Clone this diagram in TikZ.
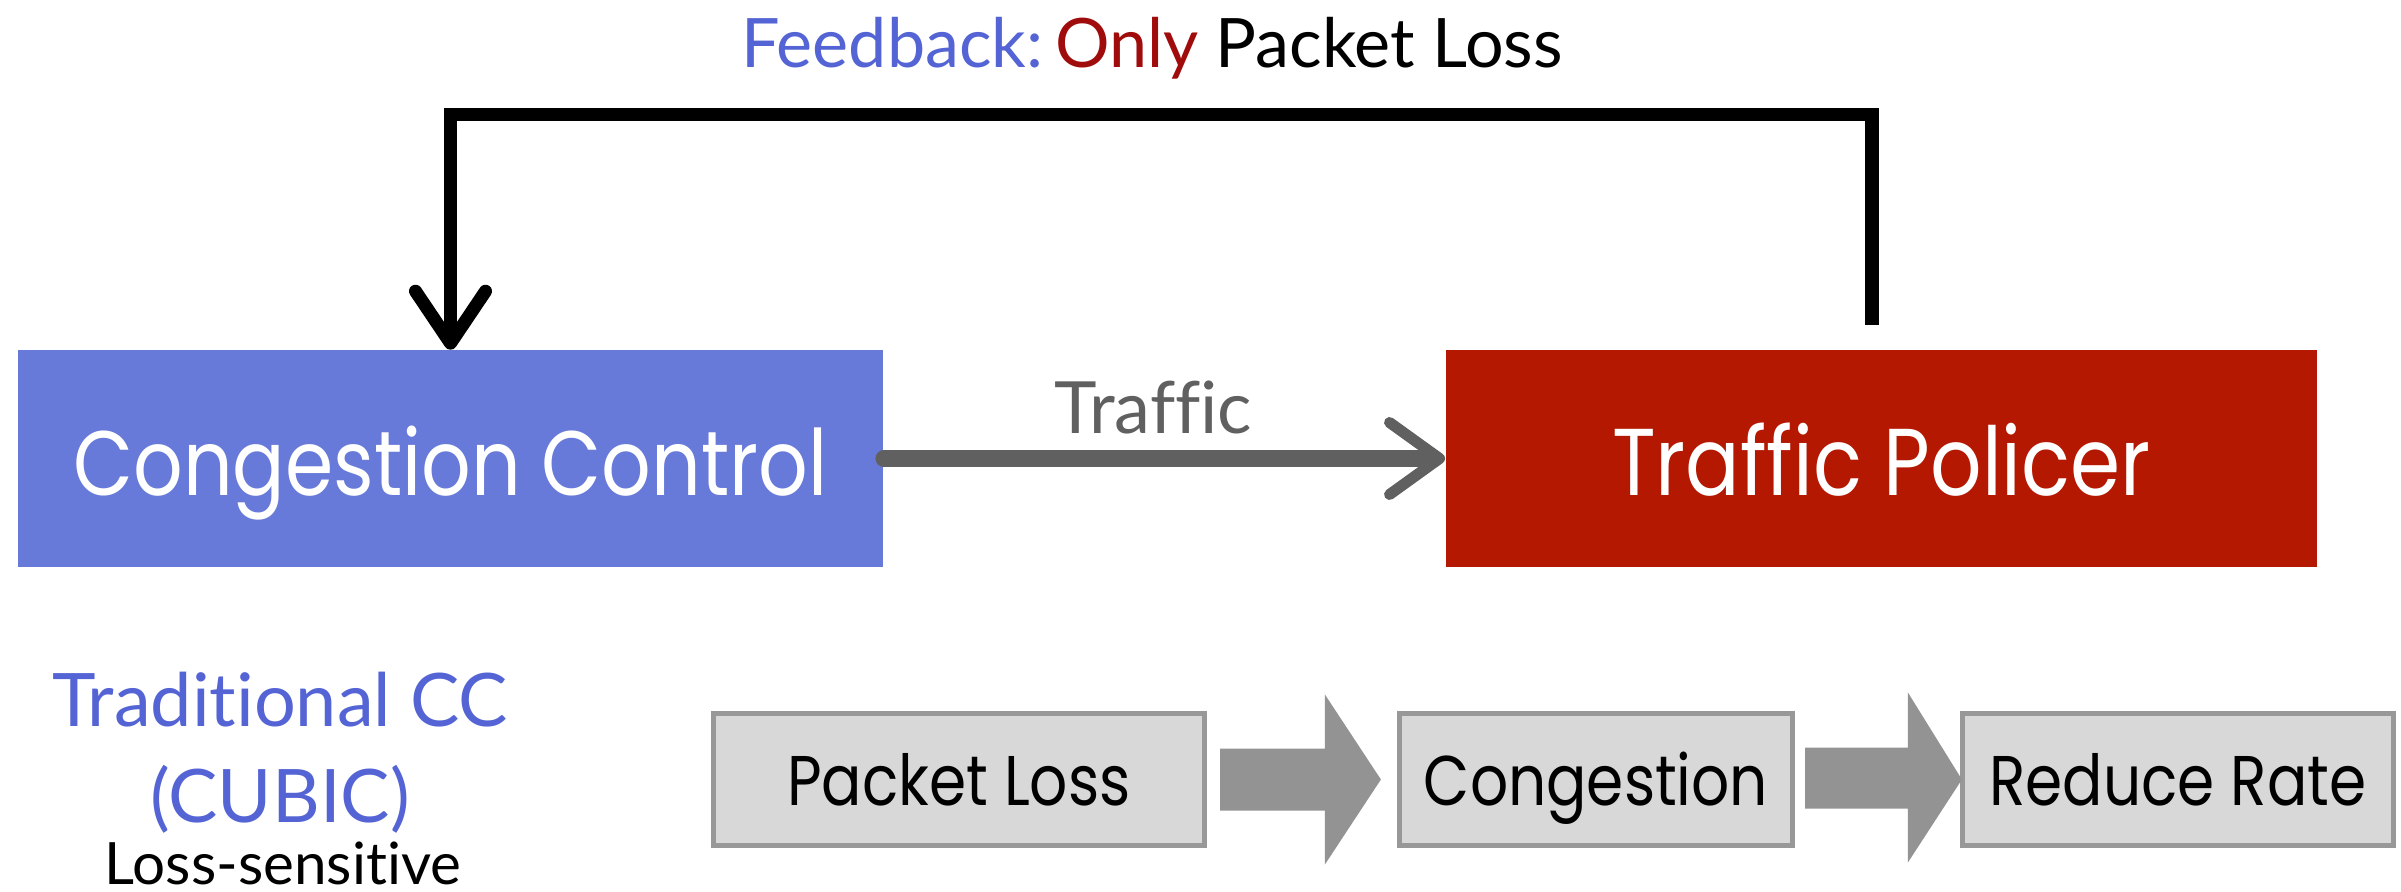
\documentclass[tikz,border=0pt]{standalone}
\usepackage{fontspec}
\setmainfont{Lato}[Ligatures={NoCommon,NoContextual}]
\newfontfamily\handfont{Poppins}[FakeStretch=0.85]
\usetikzlibrary{arrows.meta,calc}

\definecolor{ccblue}{RGB}{103,122,217}
\definecolor{tpred}{RGB}{180,24,0}
\definecolor{labelblue}{RGB}{84,100,212}
\definecolor{onlyred}{RGB}{160,12,12}
\definecolor{flowgray}{RGB}{96,96,96}
\definecolor{stepfill}{RGB}{216,216,216}
\definecolor{stepline}{RGB}{152,152,152}
\definecolor{fatgray}{RGB}{147,147,147}

\tikzset{
  bigbox/.style={draw=none, minimum height=2.16cm, inner sep=0pt,
    text=white, font=\handfont\fontsize{26}{30}\selectfont,
    text height=0.73cm, text depth=0pt},
  stepbox/.style={draw=stepline, line width=0.05cm, fill=stepfill,
    minimum height=1.32cm, inner sep=0pt,
    font=\handfont\fontsize{20}{24}\selectfont,
    text height=0.51cm, text depth=0pt},
  feedback/.style={line width=0.135cm, line join=miter,
    -{Straight Barb[length=0.52cm, width=0.7cm, line width=0.13cm, round]}},
  flow/.style={draw=flowgray, line width=0.17cm, line cap=round,
    -{Straight Barb[length=0.5cm, width=0.72cm, line width=0.11cm, round]}},
  fatarrow/.style={fill=fatgray, draw=none},
  sidetext/.style={anchor=base, inner sep=0pt}
}

\begin{document}
\begin{tikzpicture}[x=0.01cm, y=-0.01cm]
\useasboundingbox (0,0) rectangle (2401,892);

% main blocks
\node[bigbox, fill=ccblue, minimum width=8.65cm] (cc) at (450.5,458.5) {Congestion Control};
\node[bigbox, fill=tpred, minimum width=8.71cm, font=\handfont\fontsize{27}{30}\selectfont] (tp) at (1881.5,458.5) {Traffic Policer};

% feedback loop from the policer back to congestion control
\coordinate (fbR) at (1872,325);
\coordinate (fbTop) at (0,114.5);
\draw[feedback] (fbR) -- (fbR |- fbTop) -- (cc.north |- fbTop) -- (cc.north);

\node[sidetext, font=\fontsize{19.4}{24}\selectfont] (title) at (1152,68)
  {\textcolor{labelblue}{Feedback:}\hspace{0.17em}\textcolor{onlyred}{Only} Packet Loss};

% traffic flow
\draw[flow] (cc.east) -- (tp.west)
  node[pos=0.48, anchor=base, yshift=0.25cm, inner sep=0pt, text=flowgray,
       font=\fontsize{20.5}{24}\selectfont] (trafficlbl) {Traffic};

% left-hand caption
\node[sidetext, text=labelblue, font=\fontsize{21}{25}\selectfont] (trad) at (280,727) {Traditional CC};
\node[sidetext, text=labelblue, font=\fontsize{21}{25}\selectfont] (cubic) at (280,822) {(CUBIC)};
\node[sidetext, font=\fontsize{16.6}{19}\selectfont] (loss) at (283,884) {Loss-sensitive};

% reaction chain
\node[stepbox, minimum width=4.91cm] (pl) at (959,779.5) {Packet Loss};
\node[stepbox, minimum width=3.93cm] (cg) at (1596,779.5) {Congestion};
\node[stepbox, minimum width=4.31cm] (rr) at (2178,779.5) {Reduce Rate};

\fill[fatarrow] ($(pl.east)+(13,-31)$) -- ($(cg.west)+(-72,-31)$) -- ($(cg.west)+(-72,-85)$)
  -- ($(cg.west)+(-16,0)$) -- ($(cg.west)+(-72,85)$) -- ($(cg.west)+(-72,31)$)
  -- ($(pl.east)+(13,31)$) -- cycle;
\fill[fatarrow] ($(cg.east)+(10,-32)$) -- ($(rr.west)+(-52,-32)$) -- ($(rr.west)+(-52,-87)$)
  -- ($(rr.west)+(2,0)$) -- ($(rr.west)+(-52,83)$) -- ($(rr.west)+(-52,29)$)
  -- ($(cg.east)+(10,29)$) -- cycle;
\end{tikzpicture}
\end{document}
